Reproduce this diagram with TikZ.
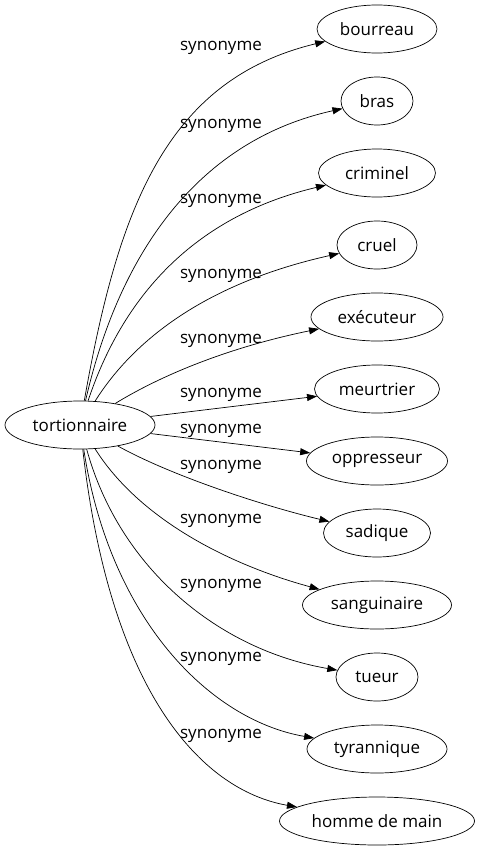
\documentclass[tikz,border=0pt]{standalone}
\usepackage{fontspec}
\setmainfont{Open Sans}
\usetikzlibrary{arrows.meta}
\usetikzlibrary{shapes.geometric, positioning}

\tikzset{
  word/.style={ellipse, draw=black, line width=0.7pt, inner sep=0pt, minimum height=48pt, font=\fontsize{17}{20}\selectfont},
  rel/.style={inner sep=0pt, font=\fontsize{17}{20}\selectfont},
  syn/.style={-{Triangle[length=10pt, width=7pt]}, line width=0.7pt},
}

\begin{document}
\begin{tikzpicture}[x=1pt, y=-1pt]
      \useasboundingbox (0, 0) rectangle (480, 851);

      \node[word, minimum width=150pt] (tort) at (80, 425) {tortionnaire};

      \node[word, minimum width=120pt] (bourreau) at (377, 29) {bourreau};
      \node[word, minimum width=72pt] (bras) at (377, 101) {bras};
      \node[word, minimum width=117pt] (criminel) at (377, 173) {criminel};
      \node[word, minimum width=80pt] (cruel) at (377, 245) {cruel};
      \node[word, minimum width=132pt] (executeur) at (377, 317) {exécuteur};
      \node[word, minimum width=125pt] (meurtrier) at (377, 389) {meurtrier};
      \node[word, minimum width=141pt] (oppresseur) at (377, 461) {oppresseur};
      \node[word, minimum width=107pt] (sadique) at (377, 533) {sadique};
      \node[word, minimum width=149pt] (sanguinaire) at (377, 605) {sanguinaire};
      \node[word, minimum width=82pt] (tueur) at (377, 677) {tueur};
      \node[word, minimum width=140pt] (tyrannique) at (377, 749) {tyrannique};
      \node[word, minimum width=195pt] (homme) at (377, 821) {homme de main};

      \draw[syn] (tort) .. controls (118, 210) and (165, 80) .. (bourreau);
      \draw[syn] (tort) .. controls (120, 250) and (200, 140) .. (bras);
      \draw[syn] (tort) .. controls (125, 290) and (200, 215) .. (criminel);
      \draw[syn] (tort) .. controls (140, 330) and (220, 280) .. (cruel);
      \draw[syn] (tort) .. controls (170, 370) and (240, 345) .. (executeur);
      \draw[syn] (tort) -- (meurtrier);
      \draw[syn] (tort) -- (oppresseur);
      \draw[syn] (tort) .. controls (170, 475) and (260, 505) .. (sadique);
      \draw[syn] (tort) .. controls (140, 520) and (230, 565) .. (sanguinaire);
      \draw[syn] (tort) .. controls (120, 570) and (220, 650) .. (tueur);
      \draw[syn] (tort) .. controls (110, 620) and (210, 720) .. (tyrannique);
      \draw[syn] (tort) .. controls (110, 690) and (200, 790) .. (homme);

      \node[rel] (s1) at (221, 48) {synonyme};
      \node[rel] (s2) at (221, 126) {synonyme};
      \node[rel] (s3) at (221, 201) {synonyme};
      \node[rel] (s4) at (221, 276) {synonyme};
      \node[rel] (s5) at (221, 341) {synonyme};
      \node[rel] (s6) at (221, 395) {synonyme};
      \node[rel] (s7) at (221, 431) {synonyme};
      \node[rel] (s8) at (221, 467) {synonyme};
      \node[rel] (s9) at (221, 521) {synonyme};
      \node[rel] (s10) at (221, 586) {synonyme};
      \node[rel] (s11) at (221, 659) {synonyme};
      \node[rel] (s12) at (221, 736) {synonyme};

    \end{tikzpicture}
\end{document}
